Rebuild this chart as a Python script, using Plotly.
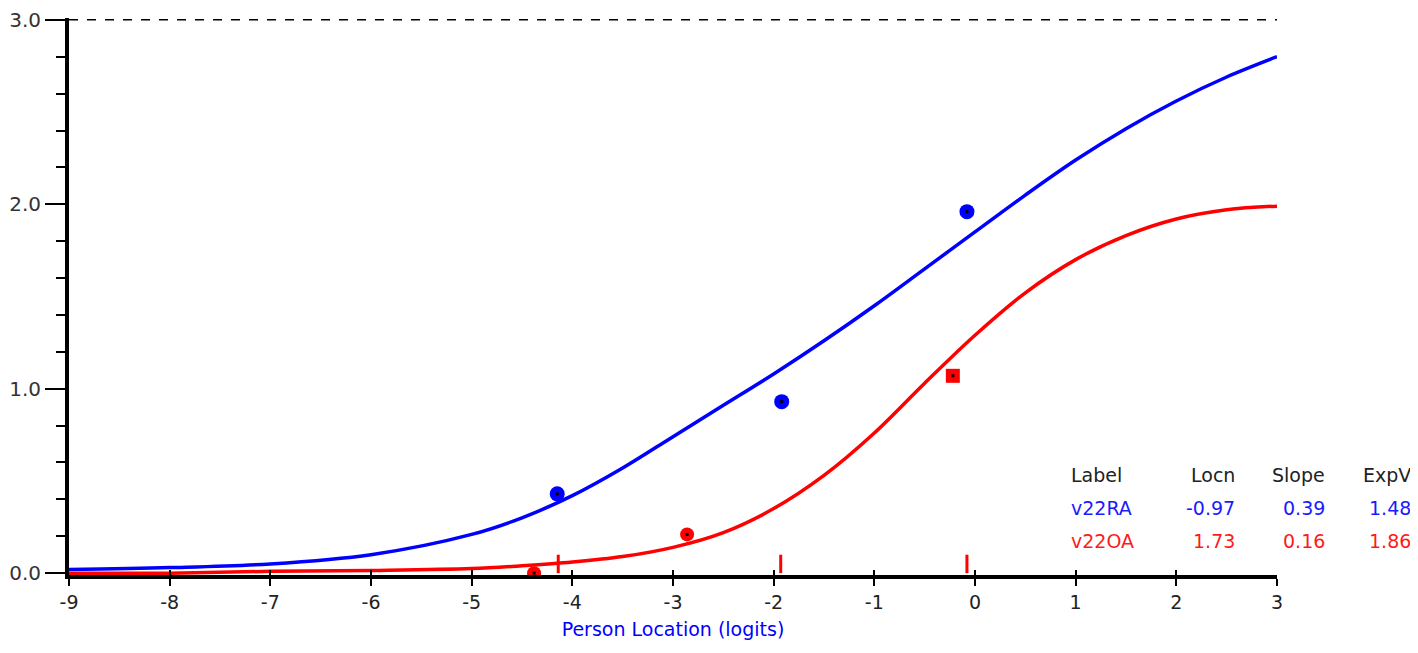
import plotly.graph_objects as go

# Erwartungswert-Kurven (ICC) fuer zwei Items
logits = [-9, -8, -7, -6, -5, -4.5, -4, -3.5, -3, -2.5, -2, -1.5, -1, -0.5, 0, 0.5, 1, 1.5, 2, 2.5, 3]
ev_v22RA = [0.02, 0.03, 0.05, 0.10, 0.21, 0.30, 0.42, 0.57, 0.74, 0.91, 1.08, 1.26, 1.45, 1.65, 1.85, 2.05, 2.24, 2.41, 2.56, 2.69, 2.80]
ev_v22OA = [0.00, 0.00, 0.01, 0.015, 0.025, 0.04, 0.06, 0.09, 0.14, 0.22, 0.35, 0.53, 0.76, 1.03, 1.29, 1.52, 1.70, 1.83, 1.92, 1.97, 1.99]

# beobachtete Mittelwerte der Klassenintervalle
obs_x_v22RA = [-4.15, -1.92, -0.08]
obs_y_v22RA = [0.43, 0.93, 1.96]
obs_x_v22OA = [-4.38, -2.86, -0.22]
obs_y_v22OA = [0.00, 0.21, 1.07]
obs_sym_v22OA = ["circle", "circle", "square"]

# Markierungen der Klassengrenzen auf der x-Achse
interval_marks = [-4.14, -1.93, -0.08]

# Achsenbeschriftungen
x_ticks = [-9, -8, -7, -6, -5, -4, -3, -2, -1, 0, 1, 2, 3]
x_ticktext = ["-9", "-8", "-7", "-6", "-5", "-4", "-3", "-2", "-1", "0", "1", "2", "3"]
y_ticks = [0, 1, 2, 3]
y_ticktext = ["0.0", "1.0", "2.0", "3.0"]

# Tabelle unten rechts
table_header = ["Label", "Locn", "Slope", "ExpV"]
table_rows = [["v22RA", "-0.97", "0.39", "1.48"],
              ["v22OA", "1.73", "0.16", "1.86"]]
row_colors = ["#1a1aff", "#ff1a1a"]

BLUE = "#0000ff"
RED = "#ff0000"
FONT = "DejaVu Sans, Verdana, sans-serif"

# die HTML-Seite hat 8px Rand, daher etwas kleiner
W, H = 1410, 645
ML, MR, MT, MB = 61, 141, 10, 78

fig = go.Figure()

fig.add_trace(go.Scatter(x=interval_marks, y=[0] * len(interval_marks), mode="markers",
                         marker=dict(size=1, color="rgba(0,0,0,0)"),
                         error_y=dict(type="data", symmetric=False, array=[0.1] * len(interval_marks),
                                      arrayminus=[0.0] * len(interval_marks), color=RED, thickness=3, width=0),
                         hoverinfo="skip", showlegend=False))

fig.add_trace(go.Scatter(x=logits, y=ev_v22RA, mode="lines", line=dict(color=BLUE, width=3.5, shape="spline"),
                         name="v22RA", showlegend=False))
fig.add_trace(go.Scatter(x=logits, y=ev_v22OA, mode="lines", line=dict(color=RED, width=3.5, shape="spline"),
                         name="v22OA", showlegend=False))

fig.add_trace(go.Scatter(x=obs_x_v22RA, y=obs_y_v22RA, mode="markers",
                         marker=dict(size=15, color=BLUE, symbol="circle"), showlegend=False))
fig.add_trace(go.Scatter(x=obs_x_v22OA, y=obs_y_v22OA, mode="markers",
                         marker=dict(size=14, color=RED, symbol=obs_sym_v22OA), showlegend=False))
# kleiner schwarzer Punkt in der Mitte
fig.add_trace(go.Scatter(x=obs_x_v22RA + obs_x_v22OA, y=obs_y_v22RA + obs_y_v22OA, mode="markers",
                         marker=dict(size=3, color="black", symbol="square"), showlegend=False, hoverinfo="skip"))

# gestrichelte Linie beim Maximum
fig.add_shape(type="line", xref="x", yref="y", x0=-9, x1=3, y0=3, y1=3,
              line=dict(color="black", width=1.5, dash="dash"))

fig.update_layout(
    width=W, height=H,
    margin=dict(l=ML, r=MR, t=MT, b=MB),
    plot_bgcolor="white", paper_bgcolor="white",
    font=dict(family=FONT, size=18, color="#222"),
    xaxis=dict(range=[-9, 3], tickvals=x_ticks, ticktext=x_ticktext, showgrid=False, zeroline=False,
               showline=True, linecolor="black", linewidth=4, automargin=False,
               ticks="outside", ticklen=7, tickwidth=2, tickcolor="black",
               tickfont=dict(size=19, color="#222"), ticklabeloverflow="allow",
               title=dict(text="Person Location (logits)", font=dict(size=19, color=BLUE), standoff=12)),
    xaxis2=dict(range=[-9, 3], tickvals=x_ticks, overlaying="x", matches="x", side="bottom",
                showgrid=False, zeroline=False, showticklabels=False, automargin=False,
                ticks="inside", ticklen=5, tickwidth=2, tickcolor="black"),
    yaxis=dict(range=[-0.01, 3.01], tickvals=y_ticks, ticktext=y_ticktext, showgrid=False, zeroline=False,
               showline=True, linecolor="black", linewidth=4, automargin=False,
               ticks="outside", ticklen=20, tickwidth=2, tickcolor="black",
               tickfont=dict(size=20, color="#333"), ticklabeloverflow="allow",
               minor=dict(dtick=0.2, tick0=0, ticks="outside", ticklen=9, tickwidth=2, tickcolor="black")),
)

# Dummy-Trace fuer xaxis2, damit die inneren Ticks gezeichnet werden
fig.add_trace(go.Scatter(x=[-9], y=[0], xaxis="x2", mode="markers",
                         marker=dict(size=1, color="rgba(0,0,0,0)"), showlegend=False, hoverinfo="skip"))

# Tabelle als Annotationen (rechtsbuendige Spalten), Positionen in Seitenpixeln
col_right_px = [1120, 1237, 1327, 1413]
col_left_px = 1069
plot_w = W - ML - MR
plot_h = H - MT - MB


def px_to_paper(px):
    return (px - 8 - ML) / plot_w


def py_to_paper(py):
    return (H - MB - (py - 8)) / plot_h


rows = [(table_header, "#222")] + list(zip(table_rows, row_colors))
row_y_px = [475, 508, 541]
for (cells, color), ypx in zip(rows, row_y_px):
    for i, txt in enumerate(cells):
        if i == 0:
            fig.add_annotation(x=px_to_paper(col_left_px), xanchor="left", y=py_to_paper(ypx), yanchor="middle",
                               xref="paper", yref="paper", text=txt, showarrow=False,
                               font=dict(size=19, color=color, family=FONT))
        else:
            fig.add_annotation(x=px_to_paper(col_right_px[i]), xanchor="right", y=py_to_paper(ypx), yanchor="middle",
                               xref="paper", yref="paper", text=txt, showarrow=False,
                               font=dict(size=19, color=color, family=FONT))

fig.write_html("out.html")
